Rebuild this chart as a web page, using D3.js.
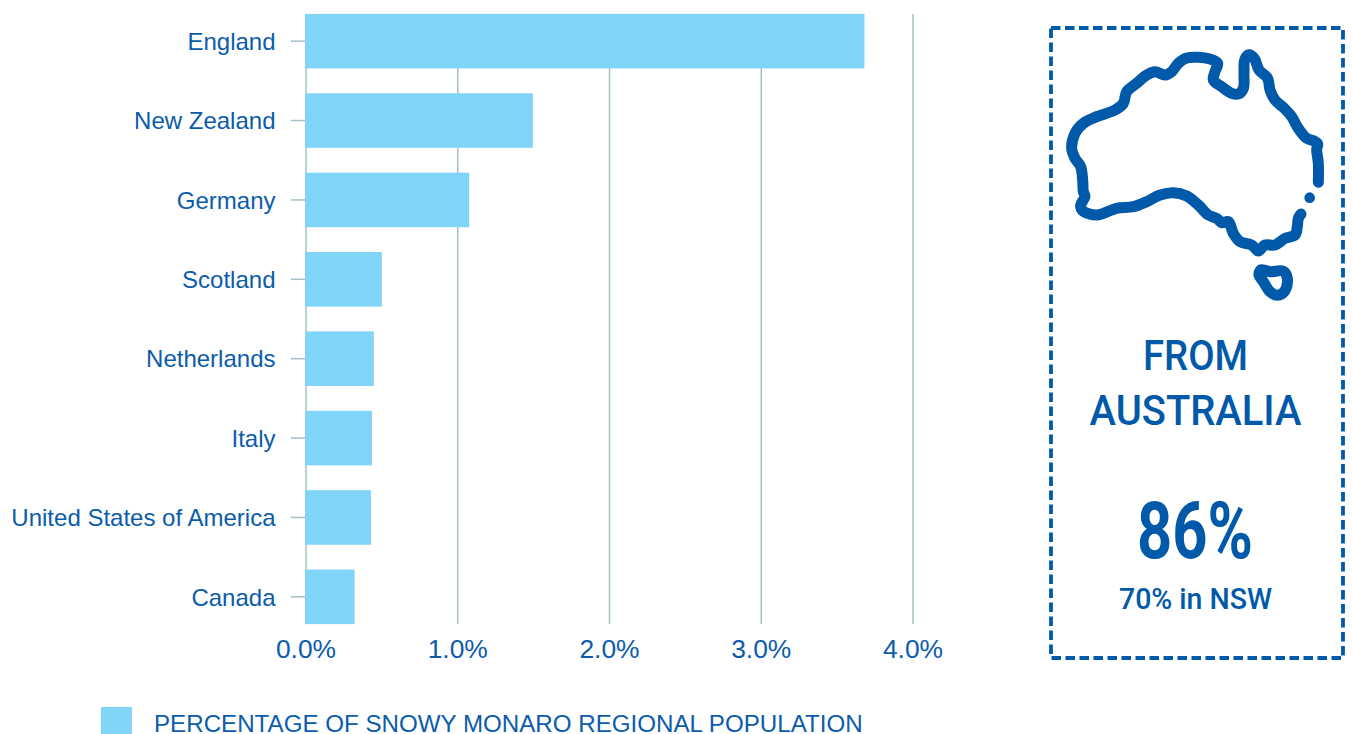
<!DOCTYPE html>
<html><head><meta charset="utf-8">
<script src="https://cdn.jsdelivr.net/npm/d3@7/dist/d3.min.js"></script>
<style>html,body{margin:0;padding:0;background:#fff;overflow:hidden}svg{display:block}</style>
</head><body><svg id="c" width="1353" height="734"></svg>
<script>
const categories = ["England","New Zealand","Germany","Scotland","Netherlands","Italy","United States of America","Canada"];
const values = [3.68,1.495,1.075,0.5,0.447,0.435,0.428,0.32];
const xTicks = [0,1,2,3,4];
const legendLabel = "PERCENTAGE OF SNOWY MONARO REGIONAL POPULATION";
const mainland = [[835,487],[835,430],[830,388],[833,372],[820,362],[800,355],[775,325],[755,290],[735,267],[705,240],[690,210],[683,175],[657,150],[643,115],[627,104],[614,120],[612,160],[610,205],[595,222],[575,220],[545,200],[520,180],[525,155],[533,130],[510,117],[440,114],[415,130],[395,155],[375,165],[345,155],[320,165],[290,190],[260,215],[250,250],[225,270],[170,290],[130,310],[105,340],[95,385],[105,415],[122,440],[128,480],[130,515],[135,530],[122,555],[128,572],[170,585],[230,565],[280,560],[320,545],[360,525],[400,518],[440,528],[475,555],[505,585],[530,595],[545,608],[565,605],[580,640],[600,665],[635,675],[655,693],[675,675],[705,675],[735,655],[765,645],[772,620],[775,595],[783,582]];
const tasmania = [[662,750],[690,755],[730,754],[742,775],[735,812],[712,826],[690,815],[670,785],[657,765]];
const island = [[809,533]];

const BLUE="#0b5cab", DARK="#0059a9", GRID="#a6bfc7", BAR="#7fd4f8";
const svg=d3.select("#c");
const x=d3.scaleLinear().domain([0,4]).range([306,913]);
const y=d3.scaleBand().domain(categories).range([1.5,636.5]).paddingInner(0.313).paddingOuter(0.156);
const sans="'Liberation Sans',Arial,sans-serif";

const grid=svg.append("g");
grid.selectAll("line").data(xTicks).join("line")
  .attr("x1",d=>x(d)).attr("x2",d=>x(d)).attr("y1",14).attr("y2",624)
  .attr("stroke",GRID).attr("stroke-width",1.5);
grid.selectAll("line.t").data(categories).join("line").attr("class","t")
  .attr("x1",291).attr("x2",305).attr("y1",d=>y(d)+y.bandwidth()/2).attr("y2",d=>y(d)+y.bandwidth()/2)
  .attr("stroke",GRID).attr("stroke-width",1.5);
svg.append("g").selectAll("rect").data(values).join("rect")
  .attr("x",x(0)-1).attr("y",(d,i)=>y(categories[i])).attr("width",d=>x(d)-x(0)+1)
  .attr("height",y.bandwidth()).attr("fill",BAR);
svg.append("g").selectAll("text").data(categories).join("text")
  .attr("x",275.5).attr("y",d=>y(d)+y.bandwidth()/2+8.8).attr("text-anchor","end")
  .attr("font-family",sans).attr("font-size",24).attr("fill",BLUE).text(d=>d);
svg.append("g").selectAll("text").data(xTicks).join("text")
  .attr("x",d=>x(d)).attr("y",658).attr("text-anchor","middle")
  .attr("font-family",sans).attr("font-size",26.4).attr("fill",BLUE).text(d=>d3.format(".1f")(d)+"%");
svg.append("rect").attr("x",101).attr("y",707).attr("width",31).attr("height",27).attr("fill",BAR);
svg.append("text").attr("x",154).attr("y",732).attr("font-family",sans).attr("font-size",24.15).attr("fill",BLUE).text(legendLabel);

svg.append("rect").attr("x",1051).attr("y",28).attr("width",292).attr("height",630)
  .attr("fill","none").attr("stroke",DARK).attr("stroke-width",3.8).attr("stroke-dasharray","9.5 4.5");
const ix=d3.scaleLinear().domain([0,939]).range([1040,1353]);
const iy=d3.scaleLinear().domain([0,900]).range([20,320]);
const outline=d3.line().x(d=>ix(d[0])).y(d=>iy(d[1]));
svg.append("path").attr("d",outline.curve(d3.curveCatmullRom.alpha(0.5))(mainland))
  .attr("fill","none").attr("stroke",DARK).attr("stroke-width",11).attr("stroke-linecap","round").attr("stroke-linejoin","round");
svg.append("path").attr("d",outline.curve(d3.curveCatmullRomClosed.alpha(0.5))(tasmania))
  .attr("fill","none").attr("stroke",DARK).attr("stroke-width",11).attr("stroke-linejoin","round");
svg.selectAll("circle.i").data(island).join("circle").attr("class","i")
  .attr("cx",d=>ix(d[0])).attr("cy",d=>iy(d[1])).attr("r",5.3).attr("fill",DARK);

const din="Roboto,'Noto Sans',sans-serif";
function t(s,cx,base,fs,w,len){
  svg.append("text").attr("x",cx).attr("y",base).attr("text-anchor","middle")
   .attr("font-family",din).attr("font-size",fs).attr("font-weight",w).attr("fill",DARK)
   .attr("textLength",len).attr("lengthAdjust","spacingAndGlyphs").text(s);
}
t("FROM",1195.5,370,42,500,105);
t("AUSTRALIA",1195.5,425,42,500,212);
t("86%",1195,558,80,700,116);
t("70% in NSW",1195.5,609,29,500,153);
</script></body></html>
